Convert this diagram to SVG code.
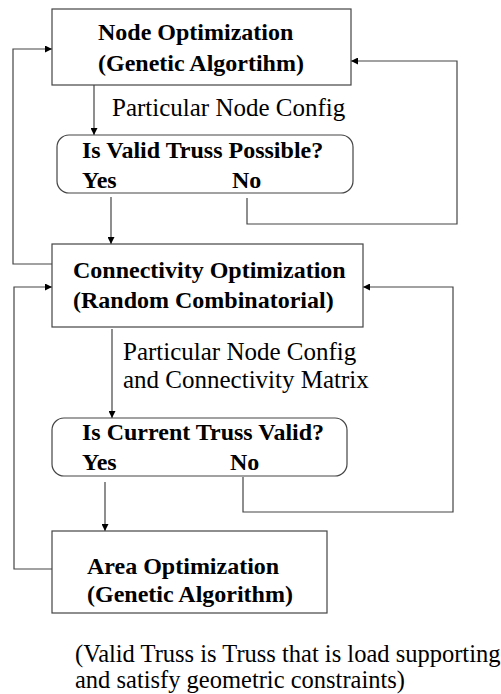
<svg xmlns="http://www.w3.org/2000/svg" width="501" height="694" viewBox="0 0 501 694">
<style>
.box{fill:#fff;stroke:#444;stroke-width:1.2}
.b{font-family:"Liberation Serif","Times New Roman",serif;font-size:24px;font-weight:bold;fill:#000}
.n{font-family:"Liberation Serif","Times New Roman",serif;font-size:25px;fill:#000}
.c{fill:none;stroke:#444;stroke-width:1.2}
</style>
<defs>
<marker id="ah" viewBox="0 0 10 10" refX="10" refY="5" markerWidth="10" markerHeight="7" markerUnits="userSpaceOnUse" orient="auto">
<path d="M0,0 L10,5 L0,10 z" fill="#000"/>
</marker>
</defs>
<rect width="501" height="694" fill="#fff"/>
<g id="connectors">
<path class="c" d="M94,85 V135" marker-end="url(#ah)"/>
<path class="c" d="M111,197 V244" marker-end="url(#ah)"/>
<path class="c" d="M247,198 V224 H457 V61 H351" marker-end="url(#ah)"/>
<path class="c" d="M52,264 H13 V49 H52" marker-end="url(#ah)"/>
<path class="c" d="M112,329 V418" marker-end="url(#ah)"/>
<path class="c" d="M243,477 V512 H453 V287 H363" marker-end="url(#ah)"/>
<path class="c" d="M105,482 V531" marker-end="url(#ah)"/>
<path class="c" d="M52,569 H14 V287 H52" marker-end="url(#ah)"/>
</g>
<g id="node-opt">
<rect class="box" x="52" y="9" width="299" height="76"/>
<text class="b" x="98" y="40">Node Optimization</text>
<text class="b" x="98" y="71">(Genetic Algortihm)</text>
</g>
<g id="label1">
<text class="n" x="112" y="116">Particular Node Config</text>
</g>
<g id="valid-possible">
<rect class="box" x="57" y="135" width="296" height="58" rx="12"/>
<text class="b" x="82" y="158">Is Valid Truss Possible?</text>
<text class="b" x="82" y="188">Yes</text>
<text class="b" x="232" y="188">No</text>
</g>
<g id="conn-opt">
<rect class="box" x="52" y="244" width="311" height="83"/>
<text class="b" x="73" y="278">Connectivity Optimization</text>
<text class="b" x="73" y="308">(Random Combinatorial)</text>
</g>
<g id="label2">
<text class="n" x="123" y="360">Particular Node Config</text>
<text class="n" x="123" y="388">and Connectivity Matrix</text>
</g>
<g id="current-valid">
<rect class="box" x="52" y="418" width="295" height="58" rx="12"/>
<text class="b" x="82" y="440">Is Current Truss Valid?</text>
<text class="b" x="82" y="470">Yes</text>
<text class="b" x="230" y="470">No</text>
</g>
<g id="area-opt">
<rect class="box" x="52" y="531" width="275" height="82"/>
<text class="b" x="87" y="574">Area Optimization</text>
<text class="b" x="87" y="602">(Genetic Algorithm)</text>
</g>
<g id="note">
<text class="n" x="75" y="662" style="font-size:24.5px">(Valid Truss is Truss that is load supporting</text>
<text class="n" x="75" y="688" style="font-size:24.5px">and satisfy geometric constraints)</text>
</g>
</svg>
